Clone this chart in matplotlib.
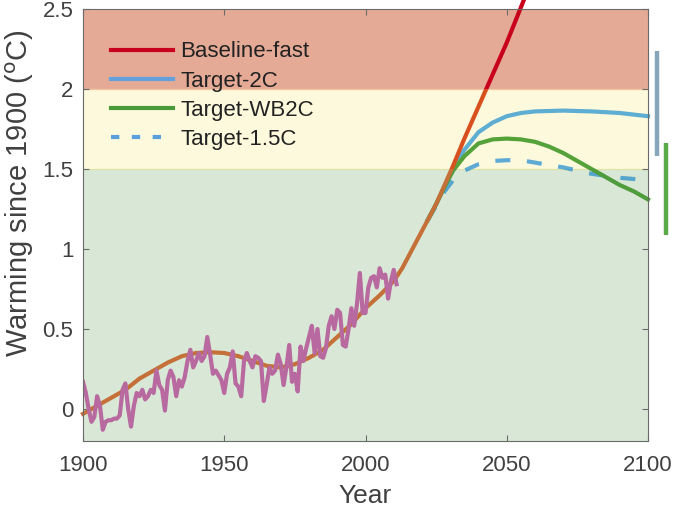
import matplotlib
matplotlib.use('Agg')
import matplotlib.pyplot as plt
from matplotlib.patches import Rectangle
from matplotlib.lines import Line2D

plt.rcParams['font.family'] = ['Liberation Sans', 'DejaVu Sans']

# ---------------- data ----------------
obs_years = list(range(1900, 2012))
obs_vals = [0.17, 0.10, 0.00, -0.08, -0.05, 0.08, 0.02, -0.13, -0.08, -0.07,
            -0.07, -0.06, -0.06, -0.04, 0.12, 0.16, 0.00, -0.11, 0.02, 0.10,
            0.08, 0.12, 0.06, 0.08, 0.12, 0.10, 0.24, 0.15, 0.12, -0.01,
            0.18, 0.24, 0.20, 0.08, 0.18, 0.14, 0.20, 0.30, 0.37, 0.26,
            0.30, 0.35, 0.30, 0.33, 0.45, 0.34, 0.22, 0.24, 0.21, 0.18,
            0.10, 0.22, 0.26, 0.36, 0.16, 0.14, 0.08, 0.30, 0.35, 0.30,
            0.26, 0.33, 0.32, 0.30, 0.05, 0.15, 0.26, 0.22, 0.24, 0.34,
            0.28, 0.15, 0.26, 0.40, 0.17, 0.22, 0.11, 0.39, 0.30, 0.38,
            0.45, 0.52, 0.35, 0.50, 0.33, 0.32, 0.38, 0.52, 0.58, 0.50,
            0.62, 0.60, 0.40, 0.39, 0.50, 0.63, 0.52, 0.66, 0.85, 0.60,
            0.60, 0.76, 0.82, 0.83, 0.76, 0.88, 0.82, 0.84, 0.69, 0.80,
            0.87, 0.78]

base_years = [1900, 1905, 1910, 1915, 1920, 1925, 1930, 1935, 1940, 1945,
              1950, 1955, 1960, 1965, 1970, 1975, 1980, 1985, 1990, 1995,
              2000, 2005, 2010, 2013, 2016, 2019, 2022, 2025, 2028, 2031,
              2035, 2040, 2045, 2050, 2055, 2060]
base_vals = [-0.03, 0.02, 0.07, 0.12, 0.19, 0.24, 0.29, 0.33, 0.35, 0.355,
             0.35, 0.33, 0.30, 0.27, 0.26, 0.28, 0.32, 0.37, 0.45, 0.53,
             0.63, 0.71, 0.80, 0.88, 0.98, 1.08, 1.18, 1.28, 1.40, 1.52,
             1.69, 1.89, 2.09, 2.29, 2.51, 2.73]

t2c_years = [2022, 2025, 2028, 2031, 2035, 2040, 2045, 2050, 2055, 2060,
             2070, 2080, 2090, 2100]
t2c_vals = [1.18, 1.28, 1.39, 1.50, 1.62, 1.73, 1.79, 1.83, 1.85, 1.86,
            1.865, 1.86, 1.85, 1.83]

wb2c_years = [2022, 2025, 2028, 2031, 2035, 2040, 2045, 2050, 2055, 2060,
              2065, 2070, 2075, 2080, 2085, 2090, 2095, 2100]
wb2c_vals = [1.18, 1.28, 1.39, 1.49, 1.58, 1.66, 1.685, 1.69, 1.685, 1.67,
             1.64, 1.60, 1.55, 1.50, 1.45, 1.40, 1.36, 1.31]

t15_years = [2022, 2025, 2028, 2031, 2035, 2040, 2045, 2050, 2055, 2060,
             2070, 2080, 2090, 2100]
t15_vals = [1.18, 1.27, 1.36, 1.43, 1.49, 1.53, 1.55, 1.555, 1.555, 1.54,
            1.51, 1.47, 1.445, 1.43]

range_2c = [1.58, 2.24]
range_wb2c = [1.09, 1.66]

labels = ['Baseline-fast', 'Target-2C', 'Target-WB2C', 'Target-1.5C']

# ---------------- figure ----------------
fig = plt.figure(figsize=(6.77, 5.11), dpi=100)
ax = fig.add_axes([83/677, (511-441)/511, (648-83)/677, (441-9)/511])

xmin, xmax, ymin, ymax = 1900, 2100, -0.2, 2.5
bands = [(-5, 1.5, '#d9e8d6'), (1.5, 2.0, '#fdf9dc'), (2.0, 5, '#e5aa96')]
for lo, hi, c in bands:
    ax.axhspan(max(lo, ymin), min(hi, ymax), color=c, lw=0, zorder=0)
ax.axhline(1.5, color='#dfe3a8', lw=0.9, zorder=0.5)
ax.axhline(2.0, color='#f2c6a4', lw=0.9, zorder=0.5)

def banded(x, y, colors, **kw):
    for (lo, hi, _), c in zip(bands, colors):
        ln, = ax.plot(x, y, color=c, solid_joinstyle='round',
                      dash_joinstyle='round', **kw)
        rect = Rectangle((1800, lo), 400, hi - lo, transform=ax.transData)
        ln.set_clip_path(rect)

lw = 3.0
banded(t15_years, t15_vals, ['#55a5cc', '#5eaad4', '#5eaad4'], lw=lw,
       dashes=(3.6, 4.0), zorder=3)
banded(t2c_years, t2c_vals, ['#55a5cc', '#5eadd2', '#5eadd2'], lw=lw, zorder=3)
banded(wb2c_years, wb2c_vals, ['#4f9c3c', '#56a23a', '#56a23a'], lw=lw, zorder=3)
banded(base_years, base_vals, ['#c47038', '#d8501e', '#c8001c'], lw=lw, zorder=4)
ax.plot(obs_years, obs_vals, color='#b86aa0', lw=3.0, zorder=5,
        solid_joinstyle='round')

# right-side range bars
ax.plot([2103.2, 2103.2], range_2c, color='#86a6bb', lw=3.2,
        solid_capstyle='butt', clip_on=False, zorder=6)
ax.plot([2106.4, 2106.4], range_wb2c, color='#5aab48', lw=3.2,
        solid_capstyle='butt', clip_on=False, zorder=6)

ax.set_xlim(xmin, xmax)
ax.set_ylim(ymin, ymax)
ax.set_xticks([1900, 1950, 2000, 2050, 2100])
ax.set_yticks([0, 0.5, 1, 1.5, 2, 2.5])
ax.set_yticklabels(['0', '0.5', '1', '1.5', '2', '2.5'])
ax.tick_params(direction='in', length=4, width=0.8, colors='#6a6a6a',
               labelcolor='#404040', labelsize=16, top=True, right=True, pad=7)
ax.tick_params(axis='x', pad=10)
for s in ax.spines.values():
    s.set_color('#6a6a6a')
    s.set_linewidth(0.8)
    s.set_zorder(7)

ax.set_xlabel('Year', fontsize=19, color='#404040', labelpad=6)
ax.set_ylabel('Warming since 1900 ($^{\\rm o}$C)', fontsize=21,
              color='#404040')
ax.yaxis.set_label_coords(-0.084, 0.574)

handles = [Line2D([], [], color='#c8001e', lw=lw),
           Line2D([], [], color='#64a0dc', lw=lw),
           Line2D([], [], color='#4b9b3c', lw=lw),
           Line2D([], [], color='#5aa0dc', lw=lw, dashes=(2.0, 3.0))]
leg = ax.legend(handles, labels, loc='upper left', bbox_to_anchor=(0.05, 0.925),
                frameon=False, fontsize=16, handlelength=2.8,
                handletextpad=0.3, labelspacing=0.37, borderpad=0,
                borderaxespad=0)
for t in leg.get_texts():
    t.set_color('#222222')
leg.set_zorder(10)

fig.savefig('out.png', dpi=100)
